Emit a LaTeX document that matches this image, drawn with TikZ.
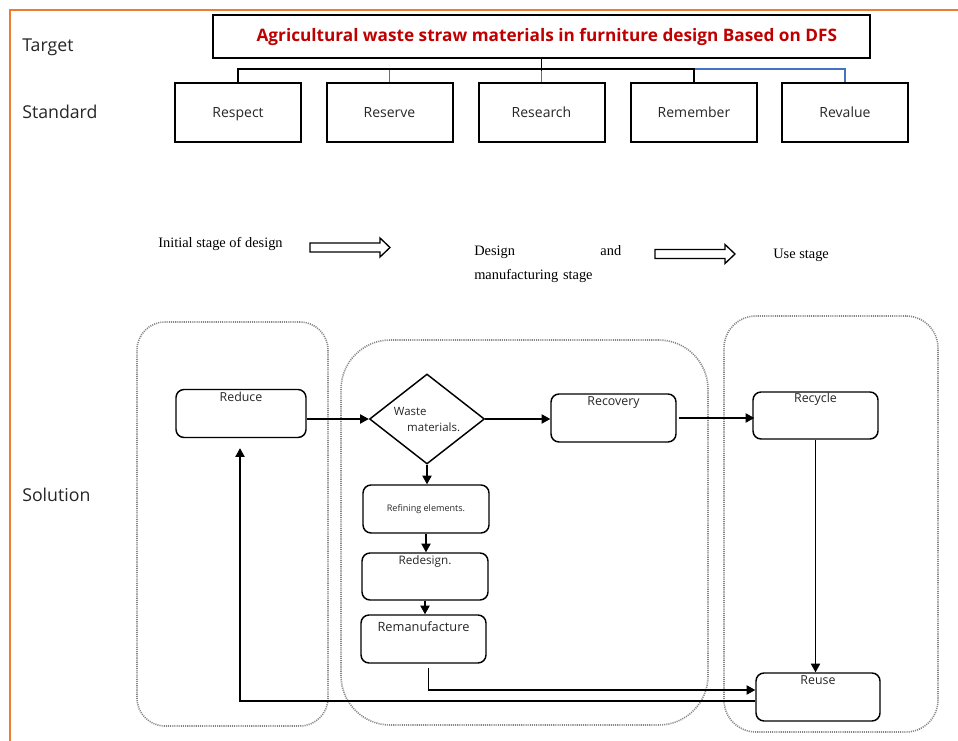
\documentclass[tikz,border=0pt]{standalone}
\usepackage{fontspec}
\setmainfont{Open Sans}
\newfontfamily\stagefont{Liberation Serif}
\usetikzlibrary{arrows.meta,shapes.geometric}
\definecolor{frameorange}{HTML}{ED7D31}
\definecolor{titlered}{HTML}{C00000}
\definecolor{treeblue}{HTML}{4472C4}
\definecolor{dotgray}{HTML}{858585}
\definecolor{txt}{HTML}{262626}
\begin{document}
\begin{tikzpicture}[x=0.75pt,y=-0.75pt,
  sidelabel/.style={anchor=base west, inner sep=0, text=txt, font=\fontsize{13.3pt}{15pt}\selectfont},
  stdbox/.style={draw, line width=1.5pt, minimum width=126*0.75pt, minimum height=59*0.75pt, inner sep=0, text=txt, font=\fontsize{10.5pt}{12pt}\selectfont, text height=7.6pt, text depth=0pt},
  sbox/.style={draw, line width=1.1pt, rounded corners=6pt, inner sep=0, minimum width=125*0.75pt, minimum height=48*0.75pt, text=txt, font=\fontsize{9.3pt}{11pt}\selectfont, text height=7pt, text depth=25pt},
  cont/.style={draw=dotgray, line width=1.2pt, dash pattern=on 0.8pt off 0.8pt, inner sep=0},
  arr/.style={line width=0.8pt, -{Triangle[length=6.5pt,width=7pt]}},
  tl/.style={line width=1.3pt},
  stagetext/.style={inner sep=0, font=\stagefont\fontsize{10.8pt}{18pt}\selectfont},
  hollow/.style={draw, line width=1pt, fill=white}
]
\useasboundingbox (0,0) rectangle (958,741);
% orange frame
\draw[frameorange, line width=1.6pt] (10,741) -- (10,10) -- (958,10);

% side labels
\node[sidelabel] (lt) at (22,51.7) {Target};
\node[sidelabel] (ls) at (22,118.7) {Standard};
\node[sidelabel] (lsol) at (22,501.7) {Solution};

% title
\node[draw, line width=1.5pt, minimum width=657*0.75pt, minimum height=43*0.75pt, inner sep=0,
      text=titlered, font=\bfseries\fontsize{12.9pt}{14pt}\selectfont] (title) at (541.5,36.5)
      {\hspace*{8pt}Agricultural waste straw materials in furniture design Based on DFS};

% standards
\node[stdbox] (respect) at (238,112.5) {Respect};
\node[stdbox] (reserve) at (389.5,112.5) {Reserve};
\node[stdbox] (research) at (541.5,112.5) {Research};
\node[stdbox] (remember) at (694,112.5) {Remember};
\node[stdbox] (revalue) at (845,112.5) {Revalue};

% tree connectors
\draw[tl, treeblue] (reserve.north) -- ++(0,-13);
\draw[tl, treeblue] (research.north) -- ++(0,-13);
\draw[tl, treeblue] (remember.north) ++(0,-13) -| (revalue.north);
\draw[tl] (title.south) -- ++(0,12);
\draw[tl] (respect.north) -- ++(0,-13) -| (remember.north);

% stages
\node[stagetext, anchor=west] (st1) at (158,244) {Initial stage of design};
\node[stagetext, anchor=west, align=left, text width=147*0.75pt] (st2) at (474,264)
      {Design\hfill and\\manufacturing stage};
\node[stagetext, anchor=west] (st3) at (773,255) {Use stage};
\draw[hollow] (310,243) -- (380,243) -- (380,238) -- (390,247.5) -- (380,257) -- (380,252) -- (310,252) -- cycle;
\draw[hollow] (655,249.5) -- (725,249.5) -- (725,244.5) -- (735,254) -- (725,263.5) -- (725,258.5) -- (655,258.5) -- cycle;

% containers
\node[cont, rounded corners=21pt, minimum width=191*0.75pt, minimum height=404*0.75pt] (c1) at (232.5,524) {};
\node[cont, rounded corners=37pt, minimum width=367*0.75pt, minimum height=385*0.75pt] (c2) at (524.5,532.5) {};
\node[cont, rounded corners=24pt, minimum width=214*0.75pt, minimum height=416*0.75pt] (c3) at (831,524) {};

% solution nodes
\node[sbox, minimum width=130*0.75pt] (reduce) at (241,413.5) {Reduce\hspace{18pt}};
\node[draw, diamond, line width=1.1pt, inner sep=0, minimum width=115*0.75pt, minimum height=90*0.75pt, aspect=1.28,
      align=left, text=txt, font=\fontsize{8.6pt}{12pt}\selectfont] (waste) at (427,419)
      {Waste\\\hspace*{10pt}materials.};
\node[sbox, text depth=26pt] (recovery) at (613.5,418) {Recovery\hspace{12.75pt}};
\node[sbox, minimum height=47*0.75pt, text depth=26pt] (recycle) at (815.5,415.5) {Recycle\hspace{20pt}};
\node[sbox, minimum width=126*0.75pt, text height=, text depth=, font=\fontsize{6.8pt}{8pt}\selectfont] (refining) at (426,509) {Refining elements.\hspace{6pt}};
\node[sbox, minimum width=126*0.75pt, minimum height=47*0.75pt, font=\fontsize{8.8pt}{10pt}\selectfont] (redesign) at (425,576.5) {Redesign.\hspace{19pt}};
\node[sbox, text depth=17.5pt, font=\fontsize{9.6pt}{11pt}\selectfont] (reman) at (423.5,639) {Remanufacture\hspace{16.5pt}};
\node[sbox, minimum width=124*0.75pt] (reuse) at (818,697) {Reuse\hspace{24pt}};

% connectors
\draw[arr] (waste.west -| reduce.east) -- (waste.west);
\draw[arr] (waste.east) -- (waste.east -| recovery.west);
\draw[arr] ([xshift=1.5pt]recovery.east) -- ([xshift=1.5pt]recovery.east -| recycle.west);
\draw[arr] (waste.south) -- (waste.south |- refining.north);
\draw[arr] (refining.south) -- (refining.south |- redesign.north);
\draw[arr] (redesign.south) -- (redesign.south |- reman.north);
\draw[arr] (recycle.south) -- (recycle.south |- reuse.north);
\draw[arr] ([xshift=3.4pt,yshift=-3pt]reman.south) |- ([yshift=5.25pt]reuse.west);
\draw[arr] ([yshift=-3pt]reuse.west) -| ([xshift=-0.75pt,yshift=-7.5pt]reduce.south);
\end{tikzpicture}
\end{document}
